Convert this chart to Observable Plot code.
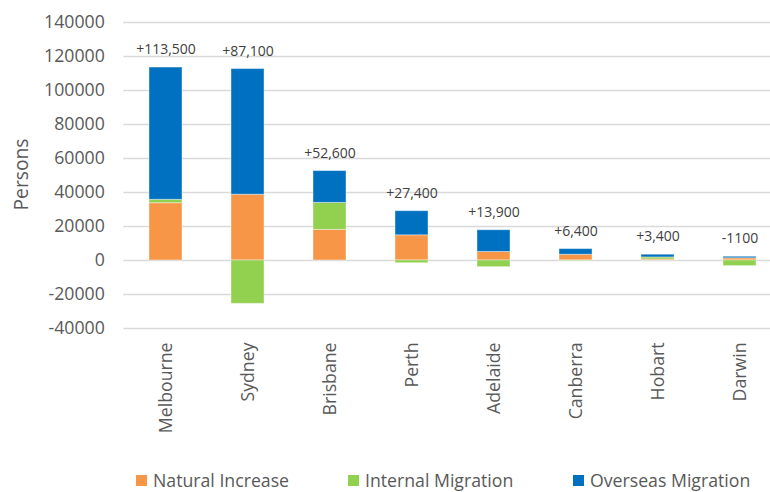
<!DOCTYPE html>
<html><head><meta charset="utf-8">
<script src="https://cdn.jsdelivr.net/npm/d3@7"></script>
<script src="https://cdn.jsdelivr.net/npm/@observablehq/plot@0.6"></script>
<style>
body{margin:0;background:#fff;font-family:"Open Sans",sans-serif;overflow:hidden;}
#legend{position:relative;width:770px;height:32px;}
.item{position:absolute;top:9px;height:22px;line-height:22px;display:flex;align-items:center;font-size:17.7px;color:#595959;white-space:nowrap;}
.sw{width:11px;height:11px;margin-right:6px;}
</style></head><body>
<div id="chart"></div>
<div id="legend"></div>
<script>
const cities = ["Melbourne","Sydney","Brisbane","Perth","Adelaide","Canberra","Hobart","Darwin"];
const naturalIncrease   = [33700, 38700, 18000, 14800, 5000, 3400, 600, 1300];
const internalMigration = [2000, -25500, 15900, -1600, -3900, -300, 1200, -3300];
const overseasMigration = [77800, 73900, 18700, 14200, 12800, 3300, 1600, 900];
const totalLabels = ["+113,500","+87,100","+52,600","+27,400","+13,900","+6,400","+3,400","-1100"];
const seriesNames = ["Natural Increase","Internal Migration","Overseas Migration"];
const seriesColors = ["#F79646","#92D050","#0070C0"];
const yTicks = [-40000,-20000,0,20000,40000,60000,80000,100000,120000,140000];

const seriesValues = [naturalIncrease, internalMigration, overseasMigration];
const rows = seriesNames.flatMap((s, si) => cities.map((c, i) => ({city: c, series: s, value: seriesValues[si][i]})));
const tops = cities.map((c, i) => ({
  city: c,
  top: d3.sum(seriesValues, v => Math.max(0, v[i])),
  label: totalLabels[i]
}));

const chart = Plot.plot({
  width: 770, height: 460,
  marginLeft: 123.3, marginRight: -12, marginTop: 22, marginBottom: 132,
  style: {fontFamily: "Open Sans", fontSize: "17.7px", color: "#595959", background: "white"},
  x: {domain: cities, paddingInner: 0.6, paddingOuter: 0.3, label: null, tickSize: 0, tickPadding: 14, tickRotate: -90},
  y: {domain: [-40000, 140000], label: null, ticks: yTicks, tickSize: 0, tickPadding: 19, tickFormat: d => String(d)},
  color: {domain: seriesNames, range: seriesColors},
  marks: [
    Plot.gridY(yTicks, {stroke: "#d9d9d9", strokeOpacity: 1, strokeWidth: 1.5}),
    Plot.barY(rows, {x: "city", y: "value", fill: "series", stroke: "white", strokeOpacity: 0.4, strokeWidth: 1}),
    Plot.text(tops, {x: "city", y: "top", text: "label", dy: -18, fontSize: 14, fill: "#404040"}),
    Plot.text(["Persons"], {frameAnchor: "left", textAnchor: "middle", rotate: -90, dx: -102, dy: -1, fontSize: 19.3, fill: "#595959"})
  ]
});
document.getElementById("chart").appendChild(chart);

const legend = document.getElementById("legend");
const lefts = [136, 348, 573];
seriesNames.forEach((s, i) => {
  const item = document.createElement("div");
  item.className = "item";
  item.style.left = lefts[i] + "px";
  const sw = document.createElement("span");
  sw.className = "sw";
  sw.style.background = seriesColors[i];
  item.appendChild(sw);
  item.appendChild(document.createTextNode(s));
  legend.appendChild(item);
});
</script>
</body></html>
